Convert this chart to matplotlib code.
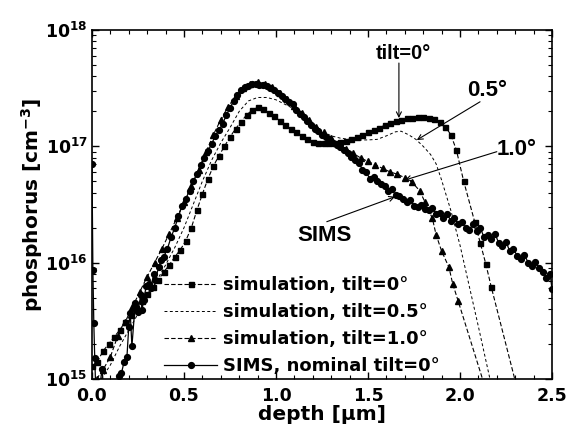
import numpy as np
import matplotlib
matplotlib.use("Agg")
import matplotlib.pyplot as plt
from matplotlib.ticker import LogLocator, MultipleLocator, FormatStrFormatter, NullFormatter

plt.rcParams['font.family'] = 'DejaVu Sans'
plt.rcParams['font.weight'] = 'bold'
plt.rcParams['axes.labelweight'] = 'bold'
plt.rcParams['mathtext.fontset'] = 'custom'
plt.rcParams['mathtext.rm'] = 'DejaVu Sans:bold'
plt.rcParams['mathtext.default'] = 'regular'

# simulation, tilt=0 (squares) - depth [um], log10 concentration
tilt0_x = [0.00, 0.03, 0.06, 0.09, 0.12, 0.15, 0.18, 0.21, 0.24, 0.27, 0.30, 0.33,
           0.36, 0.39, 0.42, 0.45, 0.48, 0.51, 0.54, 0.57, 0.60, 0.63, 0.66, 0.69,
           0.72, 0.75, 0.78, 0.81, 0.84, 0.87, 0.90, 0.93, 0.96, 0.99, 1.02, 1.05,
           1.08, 1.11, 1.14, 1.17, 1.20, 1.23, 1.26, 1.29, 1.32, 1.35, 1.38, 1.41,
           1.44, 1.47, 1.50, 1.53, 1.56, 1.59, 1.62, 1.65, 1.68, 1.71, 1.74, 1.77,
           1.80, 1.83, 1.86, 1.89, 1.92, 1.95, 1.98, 2.02, 2.08, 2.11, 2.14, 2.17,
           2.32]
tilt0_log = [15.11, 15.15, 15.24, 15.30, 15.36, 15.42, 15.49, 15.55, 15.61, 15.67, 15.73, 15.79,
             15.85, 15.92, 15.98, 16.05, 16.11, 16.19, 16.30, 16.45, 16.59, 16.72, 16.83, 16.92,
             17.00, 17.08, 17.15, 17.21, 17.27, 17.31, 17.335, 17.32, 17.29, 17.26, 17.22, 17.18,
             17.15, 17.12, 17.09, 17.06, 17.04, 17.03, 17.025, 17.025, 17.03, 17.04, 17.05, 17.06,
             17.08, 17.10, 17.12, 17.14, 17.16, 17.18, 17.20, 17.22, 17.23, 17.24, 17.245, 17.25,
             17.25, 17.245, 17.235, 17.21, 17.17, 17.10, 16.97, 16.70, 16.35, 16.17, 15.99, 15.79,
             14.86]

# simulation, tilt=0.5 (dashed line only)
tilt05_x = [0.05, 0.10, 0.15, 0.20, 0.25, 0.30, 0.35, 0.40, 0.45, 0.50, 0.55, 0.60,
            0.65, 0.70, 0.75, 0.80, 0.85, 0.90, 0.95, 1.00, 1.05, 1.10, 1.15, 1.20,
            1.25, 1.30, 1.35, 1.40, 1.45, 1.50, 1.55, 1.60, 1.65, 1.68, 1.72, 1.76,
            1.80, 1.84, 1.87, 1.90, 1.95, 2.00, 2.05, 2.10, 2.16, 2.18]
tilt05_log = [15.00, 15.12, 15.28, 15.42, 15.56, 15.70, 15.84, 15.98, 16.13, 16.30, 16.50, 16.70,
              16.88, 17.03, 17.16, 17.30, 17.39, 17.42, 17.42, 17.40, 17.36, 17.32, 17.26, 17.19,
              17.13, 17.09, 17.07, 17.06, 17.055, 17.055, 17.06, 17.09, 17.125, 17.13, 17.10, 17.06,
              17.00, 16.93, 16.85, 16.71, 16.45, 16.15, 15.80, 15.45, 15.02, 14.88]

# simulation, tilt=1.0 (triangles)
tilt1_x = [0.025, 0.06, 0.10, 0.14, 0.18, 0.22, 0.26, 0.30, 0.34, 0.38, 0.42, 0.46,
           0.50, 0.54, 0.58, 0.62, 0.66, 0.70, 0.74, 0.78, 0.82, 0.86, 0.90, 0.94,
           0.98, 1.02, 1.06, 1.10, 1.14, 1.18, 1.22, 1.26, 1.30, 1.34, 1.38, 1.42,
           1.46, 1.50, 1.54, 1.58, 1.62, 1.66, 1.70, 1.74, 1.78, 1.81, 1.85, 1.87,
           1.90, 1.94, 1.96, 1.99, 2.15]
tilt1_log = [15.00, 15.08, 15.19, 15.37, 15.49, 15.62, 15.75, 15.88, 16.00, 16.12, 16.25, 16.38,
             16.52, 16.66, 16.80, 16.95, 17.10, 17.23, 17.34, 17.43, 17.50, 17.54, 17.55, 17.54,
             17.51, 17.46, 17.41, 17.35, 17.29, 17.23, 17.17, 17.12, 17.07, 17.02, 16.98, 16.94,
             16.90, 16.87, 16.84, 16.81, 16.78, 16.76, 16.73, 16.69, 16.62, 16.52, 16.38, 16.24,
             16.10, 15.96, 15.82, 15.67, 14.86]

# SIMS, nominal tilt=0 (circles)
sims_x = [0.000, 0.005, 0.010, 0.015, 0.025, 0.040, 0.055, 0.070, 0.085, 0.100, 0.120, 0.145,
          0.160, 0.175, 0.190, 0.200, 0.208, 0.217, 0.235, 0.250, 0.265, 0.272, 0.281, 0.295,
          0.308, 0.320, 0.335, 0.344, 0.362, 0.375, 0.39, 0.41, 0.43, 0.45, 0.47, 0.49,
          0.51, 0.53, 0.55, 0.57, 0.59, 0.61, 0.63, 0.65, 0.67, 0.69, 0.71, 0.73,
          0.75, 0.77, 0.79, 0.81, 0.83, 0.85, 0.87, 0.89, 0.91, 0.93, 0.95, 0.97,
          0.99, 1.01, 1.03, 1.05, 1.07, 1.09, 1.11, 1.13, 1.15, 1.17, 1.19, 1.21,
          1.23, 1.25, 1.27, 1.29, 1.31, 1.33, 1.35, 1.37, 1.39, 1.41, 1.43, 1.45,
          1.47, 1.49, 1.51, 1.53, 1.55, 1.57, 1.59, 1.61, 1.63, 1.65, 1.67, 1.69,
          1.71, 1.73, 1.75, 1.77, 1.79, 1.81, 1.83, 1.85, 1.87, 1.89, 1.91, 1.93,
          1.95, 1.97, 1.99, 2.01, 2.03, 2.05, 2.07, 2.09, 2.11, 2.13, 2.15, 2.17,
          2.19, 2.21, 2.23, 2.25, 2.27, 2.29, 2.31, 2.33, 2.35, 2.37, 2.39, 2.41,
          2.43, 2.45, 2.47, 2.49, 2.50]
sims_log = [16.85, 15.94, 15.48, 15.18, 14.70, 14.90, 15.09, 14.75, 14.95, 14.60, 14.90, 15.03,
            15.05, 15.15, 15.19, 15.45, 15.57, 15.28, 15.65, 15.58, 15.72, 15.59, 15.68, 15.80,
            15.82, 15.78, 15.90, 15.85, 15.96, 16.02, 16.05, 16.12, 16.22, 16.30, 16.40, 16.49,
            16.55, 16.62, 16.70, 16.76, 16.84, 16.90, 16.96, 17.02, 17.09, 17.14, 17.19, 17.27,
            17.33, 17.39, 17.44, 17.48, 17.51, 17.52, 17.54, 17.54, 17.53, 17.53, 17.52, 17.50,
            17.48, 17.46, 17.43, 17.41, 17.38, 17.36, 17.31, 17.28, 17.25, 17.22, 17.18, 17.15,
            17.13, 17.10, 17.08, 17.06, 17.03, 17.01, 16.99, 16.97, 16.94, 16.91, 16.88, 16.86,
            16.80, 16.78, 16.72, 16.74, 16.70, 16.68, 16.66, 16.62, 16.63, 16.58, 16.57, 16.55,
            16.52, 16.54, 16.49, 16.48, 16.50, 16.46, 16.45, 16.47, 16.42, 16.43, 16.38, 16.42,
            16.36, 16.38, 16.33, 16.35, 16.30, 16.28, 16.33, 16.27, 16.30, 16.22, 16.24, 16.20,
            16.25, 16.17, 16.14, 16.18, 16.10, 16.12, 16.06, 16.03, 16.07, 16.00, 15.97, 16.01,
            15.95, 15.92, 15.87, 15.90, 15.77]

labels = ["simulation, tilt=0\u00b0", "simulation, tilt=0.5\u00b0",
          "simulation, tilt=1.0\u00b0", "SIMS, nominal tilt=0\u00b0"]

fig = plt.figure(figsize=(5.77, 4.34), dpi=100)
ax = fig.add_axes([0.1594, 0.1267, 0.7973, 0.8042])

ax.plot(tilt0_x, 10 ** np.array(tilt0_log), color='black', lw=0.8, ls=(0, (4, 2)),
        marker='s', ms=3.6, markevery=list(range(len(tilt0_x) - 1)), label=labels[0])
ax.plot(tilt05_x, 10 ** np.array(tilt05_log), color='black', lw=0.7, ls=(0, (3, 2.5)),
        label=labels[1])
ax.plot(tilt1_x, 10 ** np.array(tilt1_log), color='black', lw=0.8, ls=(0, (4, 2)),
        marker='^', ms=4.2, markevery=list(range(len(tilt1_x) - 1)), label=labels[2])
ax.plot(sims_x, 10 ** np.array(sims_log), color='black', lw=0.9, ls='-',
        marker='o', ms=4.2, label=labels[3])

ax.set_yscale('log')
ax.set_xlim(0, 2.5)
ax.set_ylim(1e15, 1e18)
ax.xaxis.set_major_locator(MultipleLocator(0.5))
ax.xaxis.set_minor_locator(MultipleLocator(0.1))
ax.xaxis.set_major_formatter(FormatStrFormatter('%.1f'))
ax.yaxis.set_major_locator(LogLocator(base=10, numticks=10))
ax.yaxis.set_minor_locator(LogLocator(base=10, subs=np.arange(2, 10), numticks=20))
ax.yaxis.set_minor_formatter(NullFormatter())
ax.tick_params(which='both', direction='in', top=True, right=True, labelsize=12.5)
ax.tick_params(axis='x', which='major', pad=6)
ax.tick_params(axis='y', which='major', pad=3)
ax.tick_params(which='major', length=5, width=1)
ax.tick_params(which='minor', length=3, width=0.8)
for s in ax.spines.values():
    s.set_linewidth(1.2)

ax.set_xlabel('depth [\u00b5m]', fontsize=14.5, fontweight='bold', labelpad=0)
ax.set_ylabel('phosphorus [cm$^{-3}$]', fontsize=14.5, fontweight='bold', labelpad=0)

ax.legend(loc='lower left', bbox_to_anchor=(0.13, -0.025), frameon=False, fontsize=13,
          handlelength=2.9, handletextpad=0.35, labelspacing=0.5, borderpad=0.2)

arr = dict(arrowstyle='->', color='black', lw=0.8, shrinkA=0, shrinkB=0, mutation_scale=9)
ann = dict(ha='center', va='center', fontfamily='Liberation Sans', fontweight='bold')
ax.annotate('', xy=(1.668, 10 ** 17.243), xytext=(1.668, 10 ** 17.716), arrowprops=arr)
ax.text(1.69, 10 ** 17.80, 'tilt=0\u00b0', fontsize=14.5, **ann)
ax.annotate('', xy=(1.765, 10 ** 17.054), xytext=(2.109, 10 ** 17.383), arrowprops=arr)
ax.text(2.147, 10 ** 17.484, '0.5\u00b0', fontsize=16, **ann)
ax.annotate('', xy=(1.70, 10 ** 16.71), xytext=(2.20, 10 ** 16.954), arrowprops=arr)
ax.text(2.31, 10 ** 16.97, '1.0\u00b0', fontsize=16, **ann)
ax.annotate('', xy=(1.647, 10 ** 16.567), xytext=(1.276, 10 ** 16.352), arrowprops=arr)
ax.text(1.266, 10 ** 16.237, 'SIMS', fontsize=16, **ann)

fig.savefig('out.png', dpi=100)
